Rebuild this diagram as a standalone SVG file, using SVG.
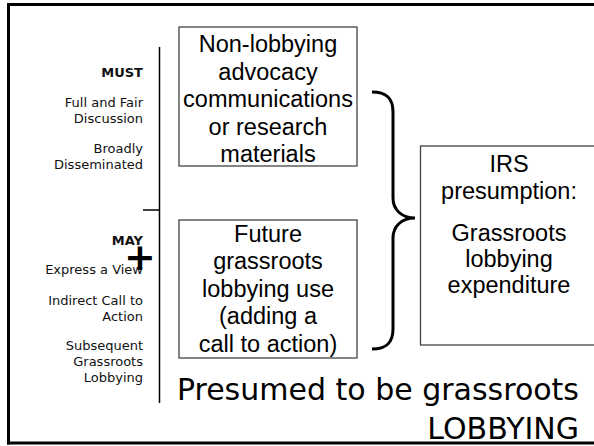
<svg xmlns="http://www.w3.org/2000/svg" width="594" height="446" viewBox="0 0 594 446">
<style>
.frame{stroke:#000;stroke-width:3;fill:none}
.box{fill:#fff;stroke:#444;stroke-width:1.3}
.side{font-family:"DejaVu Sans",Verdana,sans-serif;font-size:13px;fill:#111;text-anchor:end}
.hd{font-weight:bold}
.bt{font-family:"Liberation Sans",Arial,sans-serif;font-size:23.5px;fill:#000;text-anchor:middle}
.big{font-family:"DejaVu Sans",Verdana,sans-serif;font-size:30px;fill:#000;text-anchor:end}
.ln{stroke:#000;stroke-width:1.5;fill:none}
</style>
<rect width="594" height="446" fill="#fff"/>
<g id="frame">
<line class="frame" x1="8.5" y1="4.5" x2="594" y2="4.5"/>
<line class="frame" x1="8.5" y1="3" x2="8.5" y2="444.5"/>
<line class="frame" x1="7" y1="443" x2="594" y2="443"/>
</g>
<g id="divider">
<line class="ln" x1="159.5" y1="47" x2="159.5" y2="403"/>
<line class="ln" x1="143" y1="210" x2="159.5" y2="210"/>
</g>
<g id="must">
<text class="side hd" x="143" y="77">MUST</text>
<text class="side" x="143" y="107">Full and Fair</text>
<text class="side" x="143" y="123">Discussion</text>
<text class="side" x="143" y="153">Broadly</text>
<text class="side" x="143" y="169">Disseminated</text>
</g>
<g id="may">
<text class="side hd" x="143" y="245">MAY</text>
<text class="side" x="143" y="274">Express a View</text>
<text class="side" x="143" y="305">Indirect Call to</text>
<text class="side" x="143" y="321">Action</text>
<text class="side" x="143" y="350">Subsequent</text>
<text class="side" x="143" y="366">Grassroots</text>
<text class="side" x="143" y="382">Lobbying</text>
<text x="140" y="270" font-family="DejaVu Sans,sans-serif" font-weight="bold" font-size="38" text-anchor="middle" fill="#000">+</text>
</g>
<g id="node-nonlobbying">
<rect class="box" x="179" y="27" width="178" height="139"/>
<text class="bt" x="268" y="52">Non-lobbying</text>
<text class="bt" x="268" y="80">advocacy</text>
<text class="bt" x="268" y="107">communications</text>
<text class="bt" x="268" y="135">or research</text>
<text class="bt" x="268" y="162">materials</text>
</g>
<g id="node-future">
<rect class="box" x="179" y="220" width="178" height="138"/>
<text class="bt" x="268" y="242">Future</text>
<text class="bt" x="268" y="269">grassroots</text>
<text class="bt" x="268" y="297">lobbying use</text>
<text class="bt" x="268" y="324">(adding a</text>
<text class="bt" x="268" y="352">call to action)</text>
</g>
<g id="node-irs">
<rect class="box" x="420.5" y="146" width="180" height="199"/>
<text class="bt" x="509" y="172">IRS</text>
<text class="bt" x="509" y="199">presumption:</text>
<text class="bt" x="509" y="241">Grassroots</text>
<text class="bt" x="509" y="267">lobbying</text>
<text class="bt" x="509" y="293">expenditure</text>
</g>
<g id="connectors">
<path d="M372,92 C386,92 393,98 393,112 L393,198 C393,210 402,218 415,218 C402,218 393,226 393,238 L393,329 C393,343 386,349 372,349" fill="none" stroke="#000" stroke-width="3"/>
</g>
<g id="caption">
<text class="big" x="579" y="400">Presumed to be grassroots</text>
<text class="big" x="579" y="439">LOBBYING</text>
</g>
</svg>
